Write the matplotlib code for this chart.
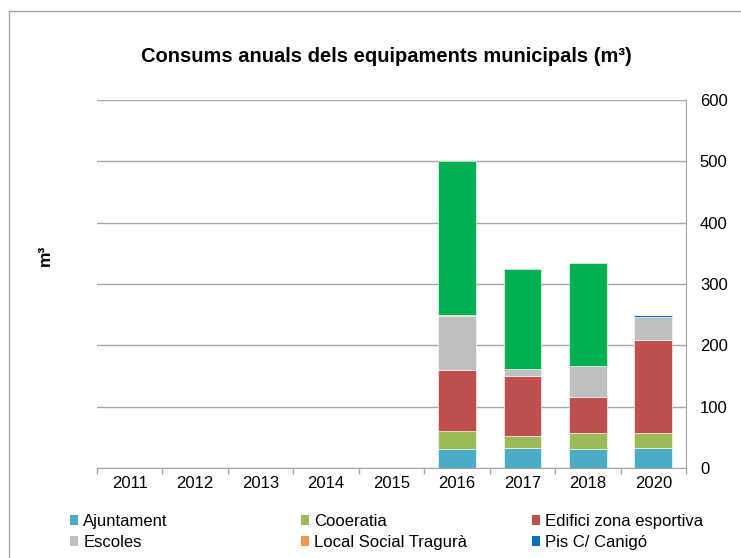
import matplotlib
matplotlib.use("Agg")
import matplotlib.pyplot as plt
import numpy as np
from matplotlib.lines import Line2D
from matplotlib.patches import Patch

plt.rcParams['font.family'] = ['Liberation Sans', 'DejaVu Sans']

years = ["2011", "2012", "2013", "2014", "2015", "2016", "2017", "2018", "2020"]
ajuntament = [0, 0, 0, 0, 0, 30.5, 33, 31.5, 33]
cooeratia = [0, 0, 0, 0, 0, 30, 19, 26, 23.5]
edifici = [0, 0, 0, 0, 0, 100, 98, 58, 152]
escoles = [0, 0, 0, 0, 0, 88, 11.5, 50, 38.5]
local_social = [0, 0, 0, 0, 0, 1.5, 0, 1.5, 0]
pis_canigo = [0, 0, 0, 0, 0, 0, 0, 0, 3]
altres = [0, 0, 0, 0, 0, 251, 162.5, 167, 0]

series = [
    ("Ajuntament", ajuntament, "#4BACC6"),
    ("Cooeratia", cooeratia, "#9BBB59"),
    ("Edifici zona esportiva", edifici, "#C0504D"),
    ("Escoles", escoles, "#BFBFBF"),
    ("Local Social Tragurà", local_social, "#F79646"),
    ("Pis C/ Canigó", pis_canigo, "#0070C0"),
    ("_altres", altres, "#00B050"),
]

fig = plt.figure(figsize=(7.41, 5.58), dpi=100)
ax = fig.add_axes([97/741, 1-468/558, (686-97)/741, (468-100)/558])

x = np.arange(len(years))
bottom = np.zeros(len(years))
for name, vals, col in series:
    v = np.array(vals, dtype=float)
    ax.bar(x, v, 0.575, bottom=bottom, color=col, edgecolor="#ffffff", linewidth=0.4, zorder=3)
    bottom += v

ax.set_xlim(-0.5, len(years) - 0.5)
ax.set_ylim(0, 600)
ax.set_yticks(np.arange(0, 601, 100))
ax.yaxis.tick_right()
ax.tick_params(axis='y', length=0, pad=10, labelsize=12)
ax.grid(axis='y', color="#A6A6A6", linewidth=1.0, zorder=0)
ax.set_xticks(x)
ax.set_xticklabels(years)
ax.set_xticks(np.arange(-0.5, len(years), 1), minor=True)
ax.tick_params(axis='x', which='major', length=0, pad=6, labelsize=12)
ax.tick_params(axis='x', which='minor', length=4, color="#A6A6A6", width=1)

for s in ["top", "left"]:
    ax.spines[s].set_visible(False)
ax.spines["right"].set_color("#A6A6A6")
ax.spines["bottom"].set_color("#A6A6A6")

fig.text(45/741, 1-255/558, "m³", rotation=90, ha="center", va="center",
         fontsize=12.5, fontweight="bold")
fig.text(386/741, 1-57/558, "Consums anuals dels equipaments municipals (m³)",
         ha="center", va="center", fontsize=14.5, fontweight="bold")

# figure frame lines
fig.add_artist(Line2D([9/741, 9/741], [0, 1-11/558], transform=fig.transFigure, color="#A6A6A6", lw=1))
fig.add_artist(Line2D([9/741, 1], [1-11/558, 1-11/558], transform=fig.transFigure, color="#A6A6A6", lw=1))

handles = [Patch(facecolor=c, label=n) for n, v, c in series if not n.startswith("_")]
col_x = [70, 301, 532]
for ci in range(3):
    hs = [handles[ci], handles[ci + 3]]
    fig.legend(handles=hs, loc="upper left", bbox_to_anchor=(col_x[ci]/741, 1-514/558), ncol=1,
               frameon=False, fontsize=12, handlelength=0.5, handleheight=0.5, handletextpad=0.3,
               labelspacing=0.35, borderaxespad=0, borderpad=0)

fig.savefig("out.png", dpi=100)
